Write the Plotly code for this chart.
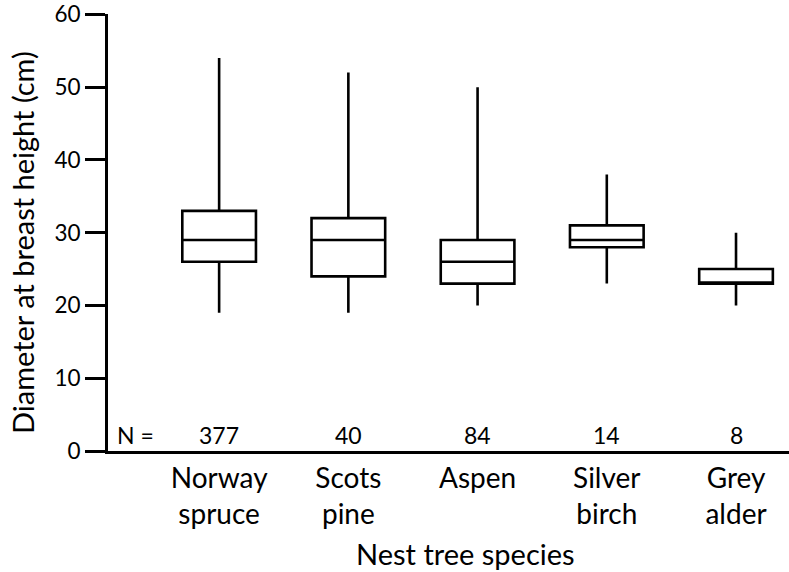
import plotly.graph_objects as go

categories = ["Norway<br>spruce", "Scots<br>pine", "Aspen", "Silver<br>birch", "Grey<br>alder"]
lower_whisker = [19, 19, 20, 23, 20]
q1_values = [26, 24, 23, 28, 23]
medians = [29, 29, 26, 29, 23]
q3_values = [33, 32, 29, 31, 25]
upper_whisker = [54, 52, 50, 38, 30]
n_counts = [377, 40, 84, 14, 8]
y_ticks = [0, 10, 20, 30, 40, 50, 60]

FONT = "Lato"
W, H = 789, 572
ML, MR, MT, MB = 108, 0, 14, 121
xpos = list(range(len(categories)))


def px_x(px):
    return (px - ML) / (W - ML - MR)


def px_y(py):
    return (H - MB - py) / (H - MB - MT)


fig = go.Figure()
fig.add_trace(go.Box(
    x=xpos,
    q1=q1_values, median=medians, q3=q3_values,
    lowerfence=lower_whisker, upperfence=upper_whisker,
    width=0.57,
    fillcolor="white",
    line=dict(color="black", width=2.6),
    whiskerwidth=0,
    boxpoints=False,
    hoverinfo="skip",
    showlegend=False,
))

for x, n in zip(xpos, n_counts):
    fig.add_annotation(x=x, y=0, yref="y", xref="x", text=str(n), showarrow=False,
                       yanchor="bottom", yshift=0, font=dict(family=FONT, size=23, color="black"))
fig.add_annotation(x=0, xref="paper", y=0, yref="y", text="N =", showarrow=False,
                   xanchor="left", yanchor="bottom", xshift=7, yshift=0,
                   font=dict(family=FONT, size=23, color="black"))
fig.add_annotation(x=px_x(22), xref="paper", y=px_y(243), yref="paper",
                   text="Diameter at breast height (cm)", textangle=-90, showarrow=False,
                   xanchor="center", yanchor="middle",
                   font=dict(family=FONT, size=29, color="black"))
fig.add_annotation(x=px_x(465), xref="paper", y=px_y(553), yref="paper",
                   text="Nest tree species", showarrow=False,
                   xanchor="center", yanchor="middle",
                   font=dict(family=FONT, size=29, color="black"))

fig.update_layout(
    width=W, height=H,
    margin=dict(l=ML, r=MR, t=MT, b=MB),
    plot_bgcolor="white", paper_bgcolor="white",
    font=dict(family=FONT, color="black"),
    xaxis=dict(
        range=[-0.86, 4.41],
        tickvals=xpos, ticktext=categories,
        showline=True, linecolor="black", linewidth=3,
        ticks="", showgrid=False, zeroline=False, automargin=False,
        tickfont=dict(family=FONT, size=28, color="black"),
    ),
    yaxis=dict(
        range=[0, 60.05],
        tickvals=y_ticks,
        showline=True, linecolor="black", linewidth=3,
        ticks="outside", ticklen=20, tickwidth=3, tickcolor="black",
        showgrid=False, zeroline=False, automargin=False,
        ticklabeloverflow="allow",
        tickfont=dict(family=FONT, size=22.5, color="black"),
    ),
)

fig.write_html("out.html", config={"displayModeBar": False},
               post_script="document.body.style.margin='0';")
